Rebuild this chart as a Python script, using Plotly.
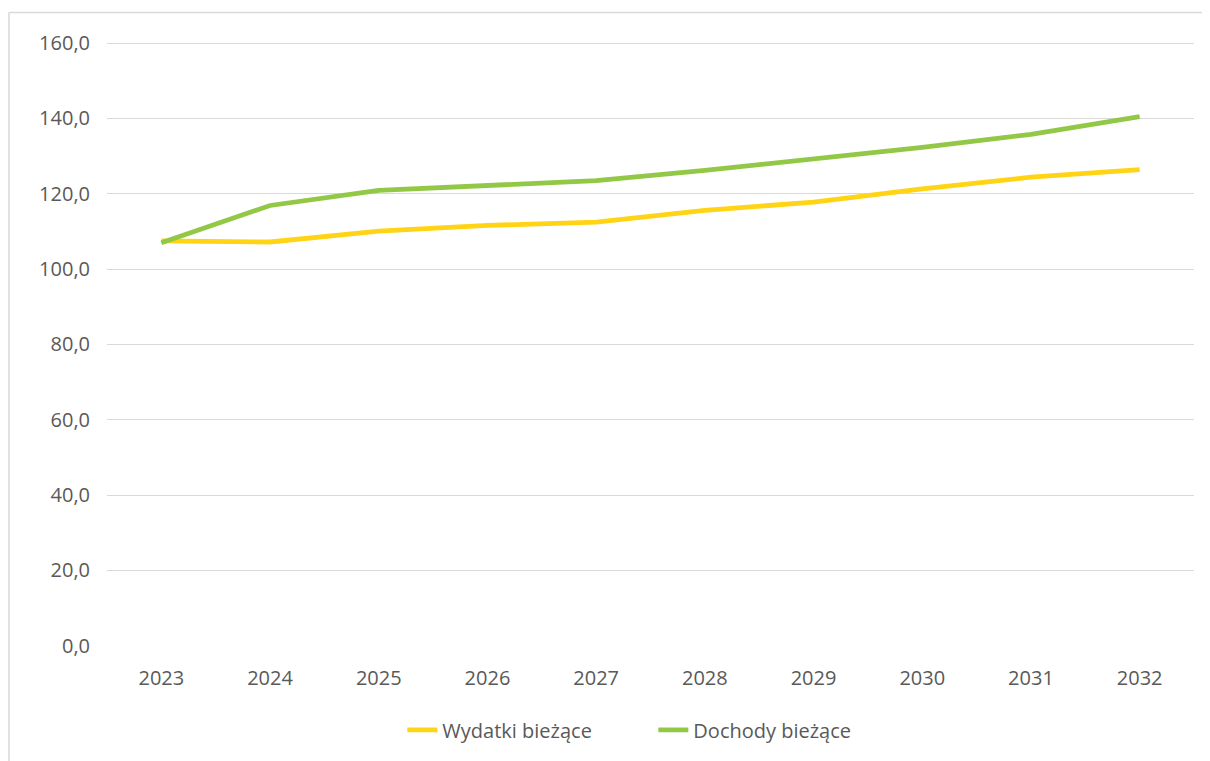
import plotly.graph_objects as go

years = ["2023", "2024", "2025", "2026", "2027", "2028", "2029", "2030", "2031", "2032"]
wydatki = [107.5, 107.2, 110.1, 111.6, 112.5, 115.6, 117.8, 121.3, 124.4, 126.4]
dochody = [107.0, 116.9, 120.9, 122.2, 123.5, 126.2, 129.3, 132.3, 135.8, 140.5]
y_ticks = [0, 20, 40, 60, 80, 100, 120, 140, 160]
y_tick_labels = ["0,0", "20,0", "40,0", "60,0", "80,0", "100,0", "120,0", "140,0", "160,0"]

font_fam = "Open Sans, Liberation Sans, sans-serif"
txt = "#595959"
fs = 20

fig = go.Figure()
fig.add_trace(go.Scatter(x=years, y=wydatki, mode="lines", name="Wydatki bieżące",
                         line=dict(color="#ffd414", width=4.8)))
fig.add_trace(go.Scatter(x=years, y=dochody, mode="lines", name="Dochody bieżące",
                         line=dict(color="#93c847", width=4.8)))

fig.update_layout(
    width=1202, height=753,
    margin=dict(l=99, r=16, t=34, b=115),
    paper_bgcolor="white", plot_bgcolor="white",
    font=dict(family=font_fam, size=fs, color=txt),
    showlegend=True,
    legend=dict(orientation="h", x=0.2717, xanchor="left", y=-0.139, yanchor="middle",
                font=dict(size=fs, color=txt), entrywidth=206, entrywidthmode="pixels"),
    xaxis=dict(type="category", range=[-0.5, 9.5], showgrid=False, zeroline=False,
               showline=False, ticks="", ticklabelstandoff=18,
               tickfont=dict(size=fs, color=txt)),
    yaxis=dict(range=[-0.05, 160.3], tickvals=y_ticks, ticktext=y_tick_labels,
               showgrid=True, gridcolor="#d9d9d9", gridwidth=1.3, zeroline=False,
               showline=False, ticks="", ticklabelstandoff=16,
               tickfont=dict(size=fs, color=txt)),
)

# outer chart frame: left and top edges
fig.add_shape(type="line", xref="paper", yref="paper", x0=-0.0902, x1=-0.0902, y0=-0.3, y1=1.0488,
              line=dict(color="#d9d9d9", width=1.5), layer="below")
fig.add_shape(type="line", xref="paper", yref="paper", x0=-0.0902, x1=1.0147, y0=1.0488, y1=1.0488,
              line=dict(color="#d9d9d9", width=1.5), layer="below")

fig.write_html("out.html")
